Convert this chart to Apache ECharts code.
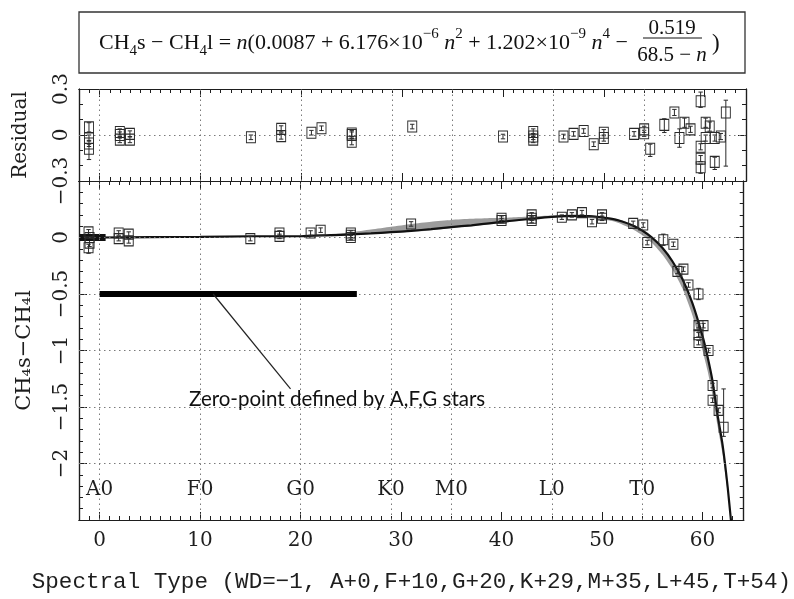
<!DOCTYPE html>
<html><head><meta charset="utf-8">
<script src="https://cdn.jsdelivr.net/npm/echarts@6/dist/echarts.min.js"></script>
<style>html,body{margin:0;padding:0;background:#fff}#c{width:794px;height:599px}</style>
</head><body><div id="c"></div><script>
// ---------- data ----------
const xMajorLabels = [0, 10, 20, 30, 40, 50, 60];
const yMainLabels = [-2, -1.5, -1, -0.5, 0];
const yResLabels = [-0.3, 0, 0.3];
const spectralNames = ['A0', 'F0', 'G0', 'K0', 'M0', 'L0', 'T0'];
const spectralPos = [0, 10, 20, 29, 35, 45, 54];
const spectralLabelY = -2.23;
const hGridMain = [0, -0.5, -1, -1.5, -2];
const hGridRes = [0];

// fitted relation
const curveX = [-2, 0, 5, 10, 15, 20, 23, 25, 27, 29, 31, 33, 35, 37, 39, 41, 43, 45, 47, 49, 51, 52, 53, 54, 55, 56, 57, 58, 59, 60, 60.5, 61, 61.5, 62, 62.5, 63];
const curveY = [0, 0, 0.004, 0.005, 0.011, 0.011, 0.021, 0.027, 0.036, 0.047, 0.059, 0.074, 0.092, 0.108, 0.128, 0.148, 0.166, 0.182, 0.191, 0.188, 0.165, 0.142, 0.109, 0.062, -0.003, -0.091, -0.21, -0.368, -0.583, -0.873, -1.055, -1.273, -1.573, -1.837, -2.207, -2.66];

// uncertainty band
const bandX = [23, 25, 27, 29, 31, 33, 35, 37, 39, 41, 43, 45, 47, 49, 51, 52, 53, 54, 55, 56, 57, 58, 59, 60, 60.5, 61, 61.5, 62, 62.5];
const bandLo = [0.01, 0.02, 0.03, 0.04, 0.05, 0.065, 0.085, 0.10, 0.12, 0.14, 0.16, 0.175, 0.18, 0.17, 0.145, 0.115, 0.075, 0.02, -0.05, -0.15, -0.28, -0.45, -0.69, -1.0, -1.18, -1.40, -1.67, -1.92, -2.25];
const bandHi = [0.025, 0.045, 0.07, 0.095, 0.12, 0.14, 0.155, 0.165, 0.172, 0.178, 0.186, 0.194, 0.2, 0.196, 0.172, 0.15, 0.115, 0.068, 0.003, -0.085, -0.205, -0.36, -0.575, -0.865, -1.045, -1.265, -1.565, -1.83, -2.2];

// zero-point stars (dense cluster)
const zpX = [-1.7, -1.3, -0.9, -0.5, -0.1, 0.3];
const zpY = [0, 0, 0, 0, 0, 0];

// main panel measurements
const mainX = [-1.1, -1.0, -1.0, -1.1, 1.9, 1.9, 2.9, 2.9, 15, 17.9, 17.9, 21, 22, 25, 25, 25, 31, 40, 40, 43, 43, 43, 46, 47, 48, 49, 50, 50, 53.1, 54.1, 54.5, 56.1, 57.1, 57.5, 58.1, 58.6, 59.6, 59.6, 60.1, 59.6, 59.6, 60.6, 61, 61, 61.6, 62.1];
const mainY = [0.05, 0.0, -0.05, -0.09, 0.04, -0.01, 0.03, -0.03, -0.01, 0.04, 0.01, 0.04, 0.065, 0.04, 0.0, 0.02, 0.12, 0.17, 0.15, 0.2, 0.17, 0.15, 0.18, 0.2, 0.22, 0.14, 0.2, 0.17, 0.125, 0.11, -0.045, -0.02, -0.06, -0.3, -0.28, -0.42, -0.5, -0.78, -0.78, -0.86, -0.93, -1.0, -1.31, -1.44, -1.53, -1.68];
const mainUp = [0.02, 0.02, 0.03, 0.03, 0.02, 0.02, 0.02, 0.02, 0.02, 0.02, 0.02, 0.02, 0.02, 0.02, 0.02, 0.02, 0.02, 0.02, 0.02, 0.02, 0.02, 0.02, 0.02, 0.02, 0.02, 0.02, 0.02, 0.02, 0.02, 0.02, 0.02, 0.05, 0.02, 0.02, 0.02, 0.02, 0.05, 0.02, 0.02, 0.02, 0.02, 0.02, 0.02, 0.02, 0.02, 0.34];
const mainDn = [0.02, 0.02, 0.03, 0.05, 0.02, 0.02, 0.02, 0.02, 0.02, 0.02, 0.02, 0.02, 0.02, 0.02, 0.02, 0.02, 0.02, 0.02, 0.02, 0.02, 0.02, 0.02, 0.02, 0.02, 0.02, 0.02, 0.02, 0.02, 0.02, 0.02, 0.02, 0.05, 0.02, 0.02, 0.02, 0.02, 0.05, 0.02, 0.02, 0.02, 0.02, 0.02, 0.02, 0.02, 0.02, 0.08];

// residuals
const resX = [-1.06, -1.06, -1.06, -1.06, 2, 2, 2, 3, 3, 15, 18, 18, 21, 22, 25, 25, 25, 31, 40, 43, 43, 43, 46, 47, 48, 49, 50, 50, 53, 54, 54, 54.6, 56, 57, 57.5, 58, 58.6, 59.6, 59.6, 59.6, 59.6, 60.1, 60.1, 60.5, 61, 61, 61.6, 62.1];
const resY = [0.05, -0.02, -0.055, -0.09, 0.02, 0, -0.03, 0.007, -0.03, -0.015, 0.04, -0.007, 0.015, 0.044, 0.01, 0, -0.044, 0.055, -0.01, 0.02, -0.01, -0.03, -0.01, 0.007, 0.026, -0.06, 0.015, -0.02, 0.007, 0.037, 0.011, -0.09, 0.066, 0.147, -0.02, 0.08, 0.037, 0.22, -0.077, -0.154, -0.21, 0.08, -0.02, 0.055, -0.02, -0.175, -0.01, 0.147];
const resUp = [0.03, 0.02, 0.02, 0.03, 0.02, 0.02, 0.02, 0.02, 0.02, 0.015, 0.02, 0.02, 0.015, 0.015, 0.02, 0.02, 0.02, 0.015, 0.015, 0.02, 0.02, 0.02, 0.015, 0.015, 0.015, 0.015, 0.02, 0.02, 0.015, 0.02, 0.02, 0.03, 0.04, 0.02, 0.06, 0.03, 0.02, 0.06, 0.02, 0.02, 0.02, 0.03, 0.02, 0.03, 0.02, 0.03, 0.02, 0.08];
const resDn = [0.03, 0.02, 0.02, 0.07, 0.02, 0.02, 0.02, 0.02, 0.02, 0.015, 0.02, 0.02, 0.015, 0.015, 0.02, 0.02, 0.02, 0.015, 0.015, 0.02, 0.02, 0.02, 0.015, 0.015, 0.015, 0.015, 0.02, 0.02, 0.015, 0.02, 0.02, 0.05, 0.05, 0.02, 0.06, 0.03, 0.02, 0.04, 0.02, 0.02, 0.04, 0.03, 0.02, 0.03, 0.02, 0.05, 0.02, 0.35];

// annotation
const annoBarX = [0, 25.6];
const annoBarY = [-0.5, -0.5];
const leaderX = [11.3, 19.0];
const leaderY = [-0.5, -1.34];
const annoText = 'Zero-point defined by A,F,G stars';
const annoPos = [8.9, -1.43];

// ---------- layout helpers ----------
const xMin = -2.05, xMax = 64.1;
const SERIF = 'DejaVu Serif';
const INK = '#1e1e1e';
function range(a, b, step) { const out = []; for (let k = Math.round(a / step); k <= Math.round(b / step); k++) out.push(+(k * step).toFixed(4)); return out; }
const xMinorTicks = range(-1, 63, 1);
const xMajorTicks = xMajorLabels;
const yMainMajor = range(-2.5, 0.5, 0.5);
const yMainMinor = range(-2.4, 0.4, 0.1);
const yResMajor = [-0.3, 0, 0.3];
const yResMinor = [-0.2, -0.1, 0.1, 0.2];
const fmtMinus = v => String(v).replace('-', '\u2212');

function xa(grid, pos, ticks, len, labels, extra) {
  return Object.assign({
    type: 'value', gridIndex: grid, position: pos, min: xMin, max: xMax,
    axisLine: { show: true, onZero: false, lineStyle: { color: INK, width: 1.2 } },
    axisTick: { show: true, inside: true, length: len, customValues: ticks, lineStyle: { color: INK, width: 1 } },
    axisLabel: labels ? { show: true, customValues: labels, fontFamily: SERIF, fontSize: 20, color: INK, margin: 11 } : { show: false },
    splitLine: { show: false }
  }, extra || {});
}
function ya(grid, pos, mn, mx, ticks, len, labels, extra) {
  return Object.assign({
    type: 'value', gridIndex: grid, position: pos, min: mn, max: mx,
    axisLine: { show: true, onZero: false, lineStyle: { color: INK, width: 1.2 } },
    axisTick: { show: true, inside: true, length: len, customValues: ticks, lineStyle: { color: INK, width: 1 } },
    axisLabel: labels ? { show: true, customValues: labels, rotate: 90, fontFamily: SERIF, fontSize: 20, color: INK, margin: 7, formatter: fmtMinus } : { show: false },
    splitLine: { show: false }
  }, extra || {});
}

function errRender(params, api) {
  const x = api.value(0), y = api.value(1), up = api.value(2), dn = api.value(3);
  const a = api.coord([x, y + up]), b = api.coord([x, y - dn]);
  const w = 2.2, st = { stroke: '#2a2a2a', lineWidth: 1 };
  return { type: 'group', children: [
    { type: 'line', shape: { x1: a[0], y1: a[1], x2: b[0], y2: b[1] }, style: st },
    { type: 'line', shape: { x1: a[0] - w, y1: a[1], x2: a[0] + w, y2: a[1] }, style: st },
    { type: 'line', shape: { x1: b[0] - w, y1: b[1], x2: b[0] + w, y2: b[1] }, style: st }
  ] };
}
function bandRender(params, api) {
  if (params.dataIndex !== 0) return;
  const pts = [];
  for (let i = 0; i < bandX.length; i++) pts.push(api.coord([bandX[i], bandHi[i]]));
  for (let i = bandX.length - 1; i >= 0; i--) pts.push(api.coord([bandX[i], bandLo[i]]));
  return { type: 'polygon', shape: { points: pts, smooth: 0.2 }, style: { fill: '#9c9c9c' } };
}
const dotted = { type: [1.5, 3.5], color: '#7a7a7a', width: 1 };
function gridLines(xi, yi, hs) {
  return { type: 'line', xAxisIndex: xi, yAxisIndex: yi, data: [], silent: true, z: 1,
    markLine: { silent: true, symbol: ['none', 'none'], label: { show: false }, lineStyle: dotted, animation: false,
      data: spectralPos.map(v => ({ xAxis: v })).concat(hs.map(v => ({ yAxis: v }))) } };
}
const boxStyle = { color: 'transparent', borderColor: '#2a2a2a', borderWidth: 1, opacity: 1 };

const option = {
  animation: false,
  backgroundColor: '#fff',
  grid: [
    { left: 79, top: 181, width: 667, height: 339 },
    { left: 79, top: 89, width: 667, height: 92 }
  ],
  xAxis: [
    xa(0, 'bottom', xMajorTicks, 8, xMajorLabels, {
      name: 'Spectral Type (WD=\u22121, A+0,F+10,G+20,K+29,M+35,L+45,T+54)', nameLocation: 'middle', nameGap: 51,
      nameTextStyle: { fontFamily: 'Liberation Mono', fontSize: 22.6, color: INK } }),
    xa(0, 'bottom', xMinorTicks, 4),
    xa(0, 'top', xMajorTicks, 8),
    xa(0, 'top', xMinorTicks, 4),
    xa(1, 'bottom', xMajorTicks, 8),
    xa(1, 'bottom', xMinorTicks, 4),
    xa(1, 'top', xMajorTicks, 8),
    xa(1, 'top', xMinorTicks, 4)
  ],
  yAxis: [
    ya(0, 'left', -2.5, 0.5, yMainMajor, 8, yMainLabels, {
      name: 'CH\u2084s\u2212CH\u2084l', nameLocation: 'middle', nameRotate: 90, nameGap: 44,
      nameTextStyle: { fontFamily: SERIF, fontSize: 21, color: INK } }),
    ya(0, 'left', -2.5, 0.5, yMainMinor, 4),
    ya(0, 'right', -2.5, 0.5, yMainMajor, 8),
    ya(0, 'right', -2.5, 0.5, yMainMinor, 4),
    ya(1, 'left', -0.3, 0.3, yResMajor, 8, yResLabels, {
      name: 'Residual', nameLocation: 'middle', nameRotate: 90, nameGap: 48,
      nameTextStyle: { fontFamily: SERIF, fontSize: 20, color: INK } }),
    ya(1, 'left', -0.3, 0.3, yResMinor, 4),
    ya(1, 'right', -0.3, 0.3, yResMajor, 8),
    ya(1, 'right', -0.3, 0.3, yResMinor, 4)
  ],
  graphic: [
    { type: 'rect', shape: { x: 79, y: 12, width: 666, height: 61 }, style: { fill: '#fff', stroke: '#333', lineWidth: 1.3 } },
    { type: 'text', x: 99, y: 43, style: {
        text: 'CH{sb|4}s \u2212 CH{sb|4}l = {it|n}(0.0087 + 6.176\u00d710{sp|\u22126} {it|n}{sp|2} + 1.202\u00d710{sp|\u22129} {it|n}{sp|4} \u2212 ',
        fontFamily: 'Liberation Serif', fontSize: 22, lineHeight: 32, fill: '#111', align: 'left', verticalAlign: 'middle',
        rich: {
          sb: { fontFamily: 'Liberation Serif', fontSize: 15, lineHeight: 15, verticalAlign: 'bottom', fill: '#111' },
          sp: { fontFamily: 'Liberation Serif', fontSize: 15, lineHeight: 15, verticalAlign: 'top', fill: '#111' },
          it: { fontFamily: 'Liberation Serif', fontStyle: 'italic', fontSize: 22, lineHeight: 32, fill: '#111' }
        } } },
    { type: 'text', x: 672, y: 28, style: { text: '0.519', fontFamily: 'Liberation Serif', fontSize: 21, fill: '#111', align: 'center', verticalAlign: 'middle' } },
    { type: 'line', shape: { x1: 643, y1: 38, x2: 702, y2: 38 }, style: { stroke: '#111', lineWidth: 1 } },
    { type: 'text', x: 672, y: 55, style: { text: '68.5 \u2212 {it|n}', fontFamily: 'Liberation Serif', fontSize: 21, fill: '#111', align: 'center', verticalAlign: 'middle',
        rich: { it: { fontFamily: 'Liberation Serif', fontStyle: 'italic', fontSize: 21, fill: '#111' } } } },
    { type: 'text', x: 712, y: 44, style: { text: ')', fontFamily: 'Liberation Serif', fontSize: 23, fill: '#111', align: 'left', verticalAlign: 'middle' } }
  ],
  series: [
    gridLines(0, 0, hGridMain),
    gridLines(4, 4, hGridRes),
    { type: 'custom', xAxisIndex: 0, yAxisIndex: 0, renderItem: bandRender, data: [[bandX[0], bandLo[0]]], clip: true, silent: true, z: 2 },
    { type: 'line', xAxisIndex: 0, yAxisIndex: 0, data: curveX.map((x, i) => [x, curveY[i]]), showSymbol: false, smooth: 0.2,
      lineStyle: { color: '#111', width: 2.2 }, clip: true, z: 3 },
    { type: 'line', xAxisIndex: 0, yAxisIndex: 0, data: annoBarX.map((x, i) => [x, annoBarY[i]]), showSymbol: false,
      lineStyle: { color: '#000', width: 6, cap: 'butt', opacity: 1 }, z: 10 },
    { type: 'line', xAxisIndex: 0, yAxisIndex: 0, data: leaderX.map((x, i) => [x, leaderY[i]]), showSymbol: false,
      lineStyle: { color: '#222', width: 1.2 }, z: 10 },
    { type: 'scatter', xAxisIndex: 0, yAxisIndex: 0, data: zpX.map((x, i) => [x, zpY[i]]), symbol: 'rect', symbolSize: [6, 7],
      itemStyle: { color: '#111', opacity: 1 }, z: 4 },
    { type: 'custom', xAxisIndex: 0, yAxisIndex: 0, renderItem: errRender, encode: { x: 0, y: 1 },
      data: mainX.map((x, i) => [x, mainY[i], mainUp[i], mainDn[i]]), z: 4 },
    { type: 'scatter', xAxisIndex: 0, yAxisIndex: 0, data: mainX.map((x, i) => [x, mainY[i]]), symbol: 'rect', symbolSize: [9, 10],
      itemStyle: boxStyle, z: 5 },
    { type: 'custom', xAxisIndex: 4, yAxisIndex: 4, renderItem: errRender, encode: { x: 0, y: 1 },
      data: resX.map((x, i) => [x, resY[i], resUp[i], resDn[i]]), z: 4 },
    { type: 'scatter', xAxisIndex: 4, yAxisIndex: 4, data: resX.map((x, i) => [x, resY[i]]), symbol: 'rect', symbolSize: [9, 11],
      itemStyle: boxStyle, z: 5 },
    { type: 'scatter', xAxisIndex: 0, yAxisIndex: 0, data: spectralPos.map((x, i) => ({ value: [x, spectralLabelY], name: spectralNames[i] })),
      symbolSize: 0, itemStyle: { opacity: 1 },
      label: { show: true, position: 'inside', formatter: p => p.name, fontFamily: SERIF, fontSize: 20, color: INK, opacity: 1 }, z: 6 },
    { type: 'scatter', xAxisIndex: 0, yAxisIndex: 0, data: [{ value: annoPos, name: annoText }], symbolSize: 0, itemStyle: { opacity: 1 },
      label: { show: true, position: 'right', distance: 0, formatter: p => p.name, fontFamily: 'Lato', fontSize: 20.5, color: '#111', opacity: 1 }, z: 6 }
  ]
};
const chart = echarts.init(document.getElementById('c'), null, { renderer: 'canvas' });
chart.setOption(option);
</script></body></html>
